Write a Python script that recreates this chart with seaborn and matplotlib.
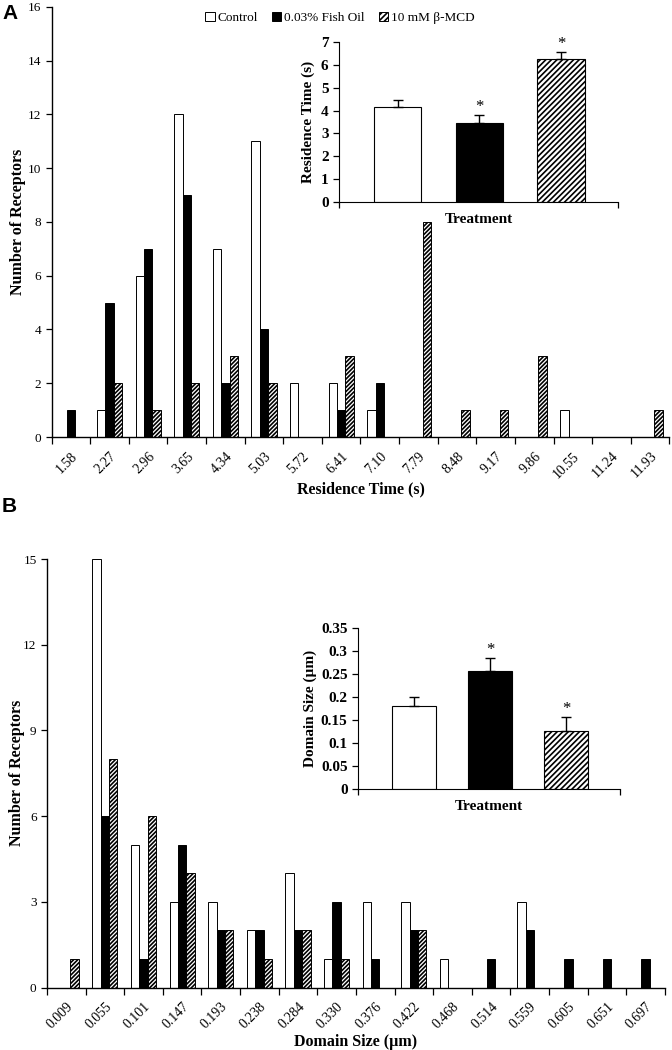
import matplotlib
matplotlib.use('Agg')
import matplotlib.pyplot as plt
import seaborn as sns
import pandas as pd
import numpy as np
from matplotlib.patches import Patch

# ---------------- data ----------------
groups = ['Control', '0.03% Fish Oil', '10 mM β-MCD']

res_bins = ['1.58', '2.27', '2.96', '3.65', '4.34', '5.03', '5.72', '6.41',
            '7.10', '7.79', '8.48', '9.17', '9.86', '10.55', '11.24', '11.93']
res_control = [0, 1, 6, 12, 7, 11, 2, 2, 1, 0, 0, 0, 0, 1, 0, 0]
res_fish = [1, 5, 7, 9, 2, 4, 0, 1, 2, 0, 0, 0, 0, 0, 0, 0]
res_mcd = [0, 2, 1, 2, 3, 2, 0, 3, 0, 8, 1, 1, 3, 0, 0, 1]

dom_bins = ['0.009', '0.055', '0.101', '0.147', '0.193', '0.238', '0.284', '0.330',
            '0.376', '0.422', '0.468', '0.514', '0.559', '0.605', '0.651', '0.697']
dom_control = [0, 15, 5, 3, 3, 2, 4, 1, 3, 3, 1, 0, 3, 0, 0, 0]
dom_fish = [0, 6, 1, 5, 2, 2, 2, 3, 1, 2, 0, 1, 2, 1, 1, 1]
dom_mcd = [1, 8, 6, 4, 2, 1, 2, 1, 0, 2, 0, 0, 0, 0, 0, 0]

res_mean = [4.15, 3.45, 6.26]
res_err = [0.31, 0.34, 0.32]
dom_mean = [0.18, 0.256, 0.127]
dom_err = [0.021, 0.029, 0.029]
significant = [False, True, True]

res_yticks = [0, 1, 2, 3, 4, 5, 6, 7]
res_ylabels = ['0', '1', '2', '3', '4', '5', '6', '7']
dom_yticks = [0, 0.05, 0.1, 0.15, 0.2, 0.25, 0.3, 0.35]
dom_ylabels = ['0', '0.05', '0.1', '0.15', '0.2', '0.25', '0.3', '0.35']

colors = ['white', 'black', 'white']

# ---------------- style ----------------
sns.set_style('ticks')
plt.rcParams['font.family'] = ['Liberation Serif', 'DejaVu Serif']
plt.rcParams['hatch.color'] = 'black'
plt.rcParams['hatch.linewidth'] = 1.2
for k in ['text.color', 'axes.labelcolor', 'xtick.color', 'ytick.color', 'axes.edgecolor']:
    plt.rcParams[k] = 'black'

fig = plt.figure(figsize=(6.72, 10.5), dpi=100)


def histogram(rect, bins, control, fish, mcd, ymax, ystep, xlabel, ylab_x, xlab_y):
    ax = fig.add_axes(rect)
    df = pd.DataFrame({
        'bin': bins * 3,
        'group': [g for g in groups for _ in bins],
        'count': control + fish + mcd,
    })
    sns.barplot(data=df, x='bin', y='count', hue='group', hue_order=groups,
                palette=colors, width=0.65, saturation=1, errorbar=None,
                edgecolor='black', linewidth=0.7, legend=False, ax=ax)
    for bar in ax.containers[2]:
        bar.set_hatch('////////')
    n = len(bins)
    ax.set_xlim(-0.5, n - 0.5)
    ax.set_ylim(0, ymax)
    ax.set_yticks(np.arange(0, ymax + 1, ystep))
    ax.set_xticks(np.arange(-0.5, n), minor=True)
    ax.tick_params(axis='x', which='major', length=0, pad=9, labelsize=10)
    ax.tick_params(axis='x', which='minor', length=5, width=0.9)
    ax.tick_params(axis='y', length=4, width=0.9, labelsize=9.5)
    plt.setp(ax.get_xticklabels(), rotation=45, ha='right', va='top',
             rotation_mode='anchor')
    ax.set_xlabel(xlabel, fontweight='bold', fontsize=11.5)
    ax.set_ylabel('Number of Receptors', fontweight='bold', fontsize=11.5)
    ax.yaxis.set_label_coords(ylab_x, 0.5)
    ax.xaxis.set_label_coords(0.5, xlab_y)
    sns.despine(ax=ax)
    for s in ['left', 'bottom']:
        ax.spines[s].set_linewidth(1.0)
    return ax


def inset(rect, means, errs, yticks, ylabels, ylabel, xlim, ylab_x, xlab_y):
    ax = fig.add_axes(rect)
    ax.patch.set_alpha(0)
    sns.barplot(x=groups, y=means, hue=groups, palette=colors, width=0.58,
                saturation=1, errorbar=None, edgecolor='black', linewidth=0.8,
                legend=False, ax=ax)
    for bar in ax.containers[2]:
        bar.set_hatch('//////')
    ax.errorbar(range(len(groups)), means, yerr=[[0] * len(errs), errs], fmt='none',
                ecolor='black', elinewidth=1.0, capsize=3.5, capthick=1.0)
    for i, sig in enumerate(significant):
        if sig:
            ax.annotate('*', (i, means[i] + errs[i]), xytext=(0, 0),
                        textcoords='offset points', ha='center', va='bottom',
                        fontsize=12)
    ax.set_xlim(xlim)
    ax.set_ylim(yticks[0], yticks[-1])
    ax.set_yticks(yticks, ylabels)
    ax.set_xticks(list(xlim), ['', ''])
    ax.tick_params(axis='x', length=4, width=0.9)
    ax.tick_params(axis='y', length=4, width=0.9, labelsize=11)
    for lab in ax.get_yticklabels():
        lab.set_fontweight('bold')
    ax.set_xlabel('Treatment', fontweight='bold', fontsize=11)
    ax.set_ylabel(ylabel, fontweight='bold', fontsize=11)
    ax.yaxis.set_label_coords(ylab_x, 0.5)
    ax.xaxis.set_label_coords(0.5, xlab_y)
    sns.despine(ax=ax)
    return ax


# ---------------- panel A ----------------
histogram([0.0769, 0.5838, 0.9191, 0.4098], res_bins, res_control, res_fish, res_mcd,
          16, 2, 'Residence Time (s)', -0.041, -0.102)
inset([0.5045, 0.8079, 0.4152, 0.1518], res_mean, res_err, res_yticks, res_ylabels,
      'Residence Time (s)', (-0.717, 2.70), -0.086, -0.071)

# ---------------- panel B ----------------
histogram([0.0699, 0.0595, 0.9196, 0.4081], dom_bins, dom_control, dom_fish, dom_mcd,
          15, 3, 'Domain Size (µm)', -0.036, -0.108)
inset([0.5327, 0.2483, 0.3899, 0.1536], dom_mean, dom_err, dom_yticks, dom_ylabels,
      'Domain Size (µm)', (-0.74, 2.707), -0.156, -0.066)

# ---------------- legend and panel letters ----------------
hatches = ['', '', '//////']
handles = [Patch(facecolor=c, edgecolor='black', linewidth=0.7, hatch=h, label=g)
           for c, h, g in zip(colors, hatches, groups)]
fig.legend(handles=handles, loc='center', bbox_to_anchor=(0.506, 0.983), ncol=3,
           frameon=False, fontsize=9.5, handlelength=0.7, handleheight=0.7,
           handletextpad=0.2, columnspacing=1.1, borderaxespad=0)

fig.text(0.003, 0.996, 'A', fontfamily='Liberation Sans', fontweight='bold',
         fontsize=15, va='top')
fig.text(0.003, 0.527, 'B', fontfamily='Liberation Sans', fontweight='bold',
         fontsize=15, va='top')

fig.savefig('out.png', dpi=100)
